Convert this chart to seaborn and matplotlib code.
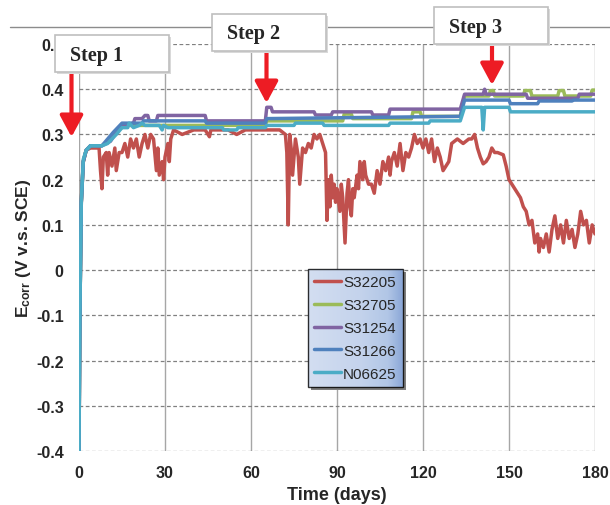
import numpy as np
import pandas as pd
import matplotlib
matplotlib.use("Agg")
import matplotlib.pyplot as plt
import seaborn as sns
from matplotlib.patches import Rectangle
from matplotlib.lines import Line2D
from matplotlib.colors import LinearSegmentedColormap

# Ecorr vs time for five alloys, (day, Ecorr in V) pairs
alloys = ["S32205", "S32705", "S31254", "S31266", "N06625"]
colors = ["#c0504d", "#9bbb59", "#8064a2", "#4f81bd", "#4bacc6"]

s32205 = [(0, -0.40), (0.3, -0.10), (0.8, 0.15), (1.5, 0.24), (2.5, 0.265), (4, 0.27), (7, 0.27),
          (7.5, 0.22), (8, 0.18), (8.5, 0.25), (9.5, 0.26), (10, 0.21), (10.5, 0.26), (11.5, 0.23),
          (12.5, 0.27), (13, 0.22), (14, 0.26), (15, 0.26), (16, 0.28), (17, 0.25), (18, 0.29),
          (19, 0.27), (20, 0.29), (21, 0.25), (22, 0.28), (23, 0.30), (24, 0.27), (25, 0.30),
          (26, 0.29), (27, 0.22), (27.5, 0.27), (28, 0.21), (29, 0.24), (29.5, 0.20), (30, 0.25),
          (31, 0.28), (31.5, 0.24), (32, 0.29), (33, 0.31), (36, 0.30), (40, 0.31), (44, 0.31),
          (45.5, 0.295), (46, 0.31), (52, 0.31), (55, 0.30), (58, 0.31), (66, 0.31), (70, 0.31),
          (72, 0.30), (72.5, 0.26), (73, 0.10), (73.5, 0.30), (74, 0.27), (74.5, 0.21),
          (75.5, 0.29), (76.5, 0.25), (77, 0.19), (78, 0.27), (79, 0.26), (80, 0.28), (81, 0.27),
          (82, 0.30), (83, 0.29), (84, 0.30), (85, 0.28), (86, 0.26), (86.5, 0.11), (87, 0.20),
          (87.5, 0.14), (88, 0.21), (88.5, 0.16), (89, 0.19), (89.5, 0.15), (90, 0.18),
          (91, 0.13), (91.5, 0.19), (92, 0.16), (92.8, 0.06), (93.5, 0.17), (94, 0.20),
          (94.5, 0.14), (95, 0.12), (95.5, 0.18), (96, 0.16), (97, 0.21), (97.5, 0.18),
          (98, 0.24), (99, 0.20), (99.5, 0.24), (100, 0.21), (101, 0.19), (102, 0.19),
          (103, 0.17), (104, 0.22), (105, 0.19), (106, 0.24), (107, 0.22), (108, 0.25),
          (108.5, 0.21), (109, 0.24), (110, 0.26), (111, 0.23), (112, 0.28), (113, 0.22),
          (114, 0.26), (115, 0.25), (116, 0.27), (117, 0.30), (118, 0.28), (119, 0.29),
          (120, 0.27), (121, 0.29), (122, 0.26), (123, 0.29), (124, 0.24), (125, 0.27),
          (126, 0.25), (127, 0.22), (128, 0.23), (129, 0.24), (130, 0.28), (132, 0.29),
          (134, 0.28), (136, 0.29), (137, 0.29), (138, 0.30), (139, 0.27), (140, 0.25),
          (141, 0.235), (142, 0.24), (143, 0.25), (144, 0.27), (145, 0.26), (146, 0.26),
          (148, 0.255), (149, 0.23), (150, 0.20), (151, 0.19), (152, 0.18), (153, 0.17),
          (154, 0.16), (155, 0.14), (156, 0.13), (157, 0.10), (158, 0.11), (159, 0.06),
          (160, 0.08), (160.5, 0.04), (161, 0.07), (162, 0.05), (163, 0.08), (164, 0.04),
          (165, 0.09), (166, 0.12), (167, 0.07), (168, 0.10), (169, 0.06), (170, 0.11),
          (171, 0.07), (172, 0.09), (173, 0.05), (174, 0.08), (175, 0.13), (176, 0.10),
          (177, 0.11), (178, 0.06), (179, 0.10), (180, 0.08)]

s32705 = [(0, -0.40), (0.3, -0.10), (0.8, 0.15), (1.5, 0.24), (2.5, 0.265), (4, 0.275), (8, 0.275),
          (10, 0.285), (12, 0.30), (15, 0.315), (16, 0.32), (65, 0.32), (65.5, 0.33), (92, 0.33),
          (92.5, 0.345), (95, 0.345), (95.5, 0.335), (116, 0.335), (116.5, 0.35), (119, 0.35),
          (119.5, 0.34), (133, 0.34), (134.5, 0.385), (143, 0.385), (143.5, 0.397),
          (144.5, 0.397), (145, 0.385), (155, 0.385), (155.5, 0.397), (157.5, 0.397),
          (158, 0.385), (167, 0.385), (167.5, 0.397), (169, 0.397), (169.5, 0.385),
          (178.5, 0.385), (179, 0.398), (180, 0.398)]

s31254 = [(0, -0.40), (0.3, -0.10), (0.8, 0.15), (1.5, 0.24), (2.5, 0.265), (4, 0.275), (8, 0.275),
          (11, 0.285), (12.5, 0.30), (13.5, 0.31), (15, 0.32), (19, 0.325), (19.5, 0.335),
          (22, 0.335), (23, 0.342), (24, 0.342), (24.5, 0.33), (27, 0.33), (27.5, 0.342),
          (44, 0.342), (44.5, 0.33), (65, 0.33), (65.5, 0.36), (67, 0.36), (67.5, 0.35),
          (82, 0.35), (82.5, 0.343), (88, 0.343), (88.5, 0.35), (102, 0.35), (102.5, 0.343),
          (108, 0.343), (108.5, 0.356), (133, 0.356), (134.5, 0.389), (141, 0.389), (141.5, 0.40),
          (142, 0.389), (156, 0.389), (156.5, 0.38), (174, 0.38), (174.5, 0.389), (180, 0.389)]

s31266 = [(0, -0.40), (0.3, -0.10), (0.8, 0.15), (1.5, 0.24), (2.5, 0.265), (4, 0.275), (8, 0.275),
          (10, 0.29), (12, 0.305), (13.5, 0.315), (15, 0.325), (22, 0.325), (22.5, 0.33),
          (44, 0.33), (44.5, 0.325), (65, 0.325), (65.5, 0.335), (133, 0.34), (134.5, 0.376),
          (150, 0.376), (150.5, 0.368), (160, 0.368), (160.5, 0.374), (172, 0.374),
          (172.5, 0.376), (180, 0.376)]

n06625 = [(0, -0.40), (0.3, -0.10), (0.8, 0.15), (1.5, 0.245), (2.5, 0.265), (4, 0.275), (8, 0.275),
          (10, 0.28), (11.5, 0.29), (13, 0.30), (15, 0.315), (17, 0.315), (17.5, 0.325),
          (19, 0.315), (21, 0.32), (22, 0.325), (23, 0.32), (28, 0.32), (29, 0.31), (29.5, 0.32),
          (31, 0.315), (50, 0.315), (50.5, 0.31), (55, 0.31), (55.5, 0.315), (65, 0.315),
          (65.5, 0.32), (75, 0.32), (75.5, 0.325), (85, 0.325), (85.5, 0.32), (108, 0.32),
          (108.5, 0.325), (122, 0.325), (122.5, 0.33), (133, 0.33), (134.5, 0.36), (140.5, 0.36),
          (141, 0.31), (141.5, 0.36), (150, 0.36), (150.5, 0.35), (180, 0.35)]

series = dict(zip(alloys, [s32205, s32705, s31254, s31266, n06625]))
frames = [pd.DataFrame(pts, columns=["day", "ecorr"]).assign(alloy=k) for k, pts in series.items()]
df = pd.concat(frames, ignore_index=True)

xticks = [0, 30, 60, 90, 120, 150, 180]
yticks = [-0.4, -0.3, -0.2, -0.1, 0, 0.1, 0.2, 0.3, 0.4, 0.5]
ytick_labels = ["-0.4", "-0.3", "-0.2", "-0.1", "0", "0.1", "0.2", "0.3", "0.4", "0.5"]

sns.set_style("white")
plt.rcParams["font.family"] = ["Liberation Sans", "DejaVu Sans"]
plt.rcParams["mathtext.fontset"] = "custom"
plt.rcParams["mathtext.rm"] = "Liberation Sans:bold"
plt.rcParams["mathtext.default"] = "rm"

fig = plt.figure(figsize=(6.1, 5.06), dpi=100)
ax = fig.add_axes([79 / 610, 54 / 506, 516 / 610, 407 / 506])

sns.lineplot(data=df, x="day", y="ecorr", hue="alloy", hue_order=alloys,
             palette=dict(zip(alloys, colors)), estimator=None, sort=False,
             lw=2.5, ax=ax)

ax.set_xlim(0, 180)
ax.set_ylim(-0.4, 0.5)
ax.set_xticks(xticks)
ax.set_yticks(yticks)
ax.set_yticklabels(ytick_labels)
ax.tick_params(axis="both", length=0, labelsize=11.5)
ax.tick_params(axis="x", pad=10)
ax.tick_params(axis="y", pad=11)
for lab in ax.get_xticklabels() + ax.get_yticklabels():
    lab.set_fontweight("bold")
ax.grid(axis="x", color="#a6a6a6", lw=1, ls="-")
ax.grid(axis="y", color="#808080", lw=0.9, ls=(0, (3, 2)))
for sp in ax.spines.values():
    sp.set_visible(False)

ax.set_xlabel("Time (days)", fontsize=13, fontweight="bold", va="top")
ax.xaxis.set_label_coords(0.5, -0.086)
ax.set_ylabel("E$_{corr}$ (V v.s. SCE)", fontsize=12.5, fontweight="bold")
ax.yaxis.set_label_coords(-0.089, 0.5)

sns.move_legend(ax, loc="upper left", bbox_to_anchor=(0.444, 0.447), title=None,
                frameon=True, fontsize=11, facecolor="none", edgecolor="black",
                framealpha=None, fancybox=False, shadow=False, handlelength=1.75,
                handletextpad=0.15, labelspacing=0.58, borderpad=0.4, borderaxespad=0)
leg = ax.get_legend()
leg.get_frame().set_linewidth(1.0)

# gradient fill + shadow behind the legend frame
fig.canvas.draw()
bb = leg.get_window_extent().transformed(ax.transAxes.inverted())
dx, dy = 3 / 516, 3 / 407
ax.add_patch(Rectangle((bb.x0 + dx, bb.y0 - dy), bb.width, bb.height, transform=ax.transAxes,
                       facecolor="#7f7f7f", edgecolor="none", zorder=4.5))
grad_cmap = LinearSegmentedColormap.from_list(
    "legend_grad", [(0, "#d3def1"), (0.55, "#c4d3ec"), (0.85, "#b1c6e6"), (1, "#8ca8d8")])
ax.imshow(np.linspace(0, 1, 64)[None, :], cmap=grad_cmap, aspect="auto",
          extent=[bb.x0, bb.x1, bb.y0, bb.y1], transform=ax.transAxes, zorder=4.8,
          interpolation="bilinear")
ax.set_xlim(0, 180)
ax.set_ylim(-0.4, 0.5)

# top rule of the page
fig.add_artist(Line2D([10 / 610, 1], [1 - 28 / 506] * 2, color="#8c8c8c", lw=1, zorder=3))

# step callouts (pixel boxes in image coordinates: x0, y0, x1, y1)
steps = [("Step 1", (55, 36, 169, 73), 71.5, 74, 138),
         ("Step 2", (212, 15, 326, 52), 266.5, 53, 104),
         ("Step 3", (434, 8, 548, 45), 492, 46, 86)]
for label, (x0, y0, x1, y1), ax_x, a_top, a_tip in steps:
    fig.add_artist(Rectangle((x0 / 610 + 2 / 610, 1 - (y1 + 2) / 506), (x1 - x0) / 610,
                             (y1 - y0) / 506, transform=fig.transFigure,
                             facecolor="#d9d9d9", edgecolor="none", zorder=4))
    fig.add_artist(Rectangle((x0 / 610, 1 - y1 / 506), (x1 - x0) / 610, (y1 - y0) / 506,
                             transform=fig.transFigure, facecolor="white",
                             edgecolor="#bfbfbf", lw=1.2, zorder=5))
    fig.text((x0 + 42) / 610, 1 - ((y0 + y1) / 2 + 1) / 506, label, ha="center", va="center",
             fontsize=14.5, fontweight="bold", family=["Liberation Serif", "DejaVu Serif"],
             zorder=6)
    ax.annotate("", xy=(ax_x, 506 - a_tip), xytext=(ax_x, 506 - a_top),
                xycoords="figure pixels", textcoords="figure pixels", annotation_clip=False,
                arrowprops=dict(arrowstyle="-|>,head_width=0.35,head_length=0.65",
                                color="#ed1c24", lw=3, shrinkA=0, shrinkB=0,
                                mutation_scale=20))

fig.savefig("out.png", dpi=100)
